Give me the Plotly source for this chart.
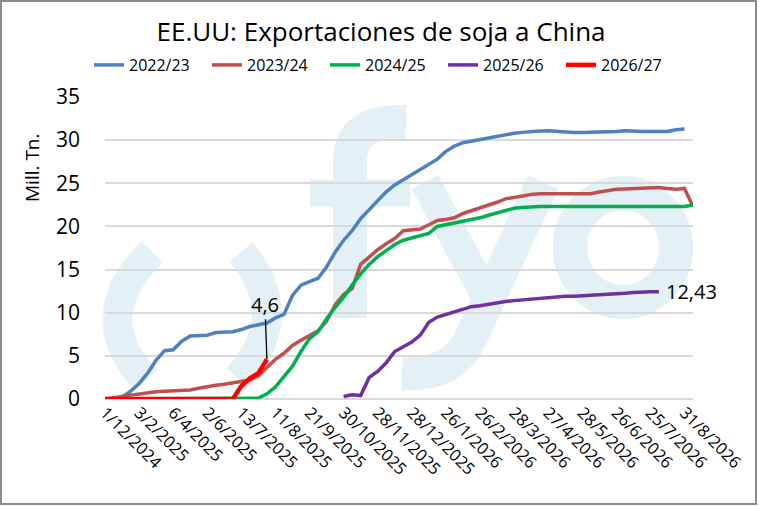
import plotly.graph_objects as go

# weekly cumulative exports, Mill. Tn.
tick_labels = ["1/12/2024", "3/2/2025", "6/4/2025", "2/6/2025", "13/7/2025", "11/8/2025",
               "21/9/2025", "30/10/2025", "28/11/2025", "28/12/2025", "26/1/2026", "26/2/2026",
               "28/3/2026", "27/4/2026", "28/5/2026", "26/6/2026", "25/7/2026", "31/8/2026"]

s2022 = [0, 0, 0.2, 0.9, 1.8, 3.0, 4.5, 5.6, 5.7, 6.7,
         7.3, 7.3, 7.4, 7.7, 7.75, 7.8, 8.05, 8.4, 8.6, 8.8,
         9.4, 9.8, 12.0, 13.2, 13.6, 14.0, 15.3, 17.0, 18.4, 19.5,
         20.9, 21.9, 23.0, 24.0, 24.8, 25.4, 25.9, 26.5, 27.1, 27.8,
         28.7, 29.3, 29.7, 29.9, 30.1, 30.3, 30.5, 30.6, 30.8, 30.9,
         31.0, 31.05, 31.1, 31.0, 30.9, 30.9, 30.9, 30.9, 30.9, 30.9,
         31.0, 31.1, 31.0, 31.0, 31.0, 31.0, 31.0, 31.2, 31.3, None]

s2023 = [0, 0.1, 0.3, 0.45, 0.6, 0.75, 0.85, 0.9, 0.95, 1.0,
         1.05, 1.25, 1.45, 1.6, 1.7, 1.85, 1.95, 2.2, 2.7, 3.6,
         4.6, 5.3, 6.2, 6.8, 7.3, 7.9, 9.0, 10.9, 12.1, 12.8,
         15.6, 16.5, 17.3, 18.0, 18.6, 19.5, 19.6, 19.7, 20.2, 20.7,
         20.8, 21.0, 21.5, 21.8, 22.1, 22.4, 22.8, 23.2, 23.4, 23.6,
         23.7, 23.8, 23.8, 23.8, 23.8, 23.8, 23.8, 23.8, 24.0, 24.2,
         24.3, 24.35, 24.4, 24.45, 24.5, 24.5, 24.4, 24.3, 24.4, 22.3]

s2024 = [0, 0, 0, 0, 0, 0, 0, 0, 0, 0,
         0, 0, 0, 0, 0, 0, 0, 0, 0.1, 0.6,
         1.4, 2.6, 3.8, 5.5, 7.0, 7.8, 9.3, 10.6, 11.8, 13.2,
         14.5, 15.6, 16.5, 17.2, 17.9, 18.4, 18.7, 18.9, 19.2, 20.0,
         20.2, 20.3, 20.6, 20.7, 21.0, 21.3, 21.6, 21.9, 22.1, 22.2,
         22.3, 22.3, 22.3, 22.3, 22.3, 22.3, 22.3, 22.3, 22.3, 22.3,
         22.3, 22.3, 22.3, 22.3, 22.3, 22.3, 22.3, 22.3, 22.3, 22.5]

s2025 = [None, None, None, None, None, None, None, None, None, None,
         None, None, None, None, None, None, None, None, None, None,
         None, None, None, None, None, None, None, None, 0.3, 0.5,
         0.4, 2.5, 3.2, 4.2, 5.5, 6.1, 6.6, 7.4, 8.9, 9.5,
         9.8, 10.0, 10.4, 10.7, 10.8, 11.0, 11.1, 11.3, 11.4, 11.5,
         11.6, 11.7, 11.8, 11.85, 11.9, 11.9, 11.95, 11.95, 12.0, 12.05,
         12.15, 12.25, 12.35, 12.43, 12.43, 12.43, None, None, None, None]

s2026 = [0, 0, 0, 0, 0, 0, 0, 0, 0, 0,
         0, 0, 0, 0, 0, 0, 1.5, 2.4, 3.0, 4.6]

series = [("2022/23", s2022, "#4F81BD", 3.5),
          ("2023/24", s2023, "#C0504D", 3.5),
          ("2024/25", s2024, "#00B050", 3.5),
          ("2025/26", s2025, "#7030A0", 3.5),
          ("2026/27", s2026, "#FF0000", 4.5)]

W, H = 759, 506
ML, MR, MT, MB = 105, 66, 97, 107
PW, PH = W - ML - MR, H - MT - MB
FONT = "Open Sans"


def pp(x, y):
    # pixel position -> paper coords
    return (x - ML) / PW, (H - MB - y) / PH


fig = go.Figure()

for name, vals, color, lw in series:
    fig.add_trace(go.Scatter(
        x=list(range(len(vals))), y=vals, name=name, mode="lines",
        line=dict(color=color, width=lw), connectgaps=False,
        hoverinfo="x+y"
    ))

# faint "( )fyo" logo watermark behind the grid
wm = "#E3F0F5"
shapes = []


def wm_path(points, width):
    d = ""
    for cmd, pts in points:
        d += cmd + " " + " ".join("%.4f,%.4f" % pp(*p) for p in pts) + " "
    shapes.append(dict(type="path", path=d.strip(), xref="paper", yref="paper",
                       line=dict(color=wm, width=width), layer="below"))


wm_path([("M", [(152, 252)]), ("Q", [(86, 317), (146, 380)])], 30)
wm_path([("M", [(241, 252)]), ("Q", [(294, 315), (238, 378)])], 30)
wm_path([("M", [(350, 318)]), ("L", [(350, 160)]), ("Q", [(350, 120), (406, 122)])], 34)
wm_path([("M", [(310, 193)]), ("L", [(410, 193)])], 27)
wm_path([("M", [(425, 182)]), ("L", [(488, 300)])], 30)
wm_path([("M", [(543, 182)]), ("L", [(470, 340)]), ("Q", [(452, 376), (402, 374)])], 33)
x0, y0 = pp(570, 193)
x1, y1 = pp(676, 302)
shapes.append(dict(type="circle", xref="paper", yref="paper", x0=x0, y0=y1, x1=x1, y1=y0,
                   line=dict(color=wm, width=34), layer="below"))

# outer frame
bx0, by0 = pp(1, 504)
bx1, by1 = pp(756, 1)
shapes.append(dict(type="rect", xref="paper", yref="paper", x0=bx0, y0=by0, x1=bx1, y1=by1,
                   line=dict(color="#8C8C8C", width=2), layer="above"))

fig.update_layout(
    width=W, height=H,
    margin=dict(l=ML, r=MR, t=MT, b=MB, autoexpand=False),
    paper_bgcolor="white", plot_bgcolor="rgba(0,0,0,0)",
    font=dict(family=FONT, color="black"),
    title=dict(text="EE.UU: Exportaciones de soja a China", x=0.502, xanchor="center",
               y=1 - 32 / H, yanchor="middle", font=dict(size=26, color="black")),
    legend=dict(orientation="h", x=(384 - ML) / PW, xanchor="center", y=1 + 32 / PH,
                yanchor="middle", font=dict(size=16), itemwidth=30,
                entrywidth=73, entrywidthmode="pixels",
                bgcolor="rgba(0,0,0,0)", tracegroupgap=0),
    showlegend=True,
    shapes=shapes,
    xaxis=dict(range=[0, len(s2023) - 1], tickvals=list(range(0, len(s2023), 4)),
               ticktext=tick_labels, tickangle=45, showgrid=False, zeroline=False,
               showline=False, ticks="", automargin=False,
               tickfont=dict(size=16.5, color="black")),
    yaxis=dict(range=[0, 35], dtick=5, showgrid=True, gridcolor="#D9D9D9", gridwidth=1.5,
               zeroline=True, zerolinecolor="#D9D9D9", zerolinewidth=1.5,
               showline=False, ticks="", automargin=False, ticklabelstandoff=24,
               tickfont=dict(size=21, color="black")),
    annotations=[
        dict(text="Mill. Tn.", xref="paper", yref="paper", x=pp(32, 168)[0], y=pp(32, 168)[1],
             xanchor="center", yanchor="middle", textangle=-90, showarrow=False,
             font=dict(size=19)),
        dict(text="4,6", x=19, y=s2026[19], xref="x", yref="y", showarrow=True, arrowhead=0,
             arrowwidth=1.3, arrowcolor="black", ax=-2, ay=-55, font=dict(size=20)),
        dict(text="12,43", x=65, y=s2025[65], xref="x", yref="y", showarrow=False,
             xanchor="left", xshift=5, font=dict(size=20)),
    ],
)

fig.write_html("out.html", config={"displayModeBar": False},
               post_script="document.body.style.margin='0';")
